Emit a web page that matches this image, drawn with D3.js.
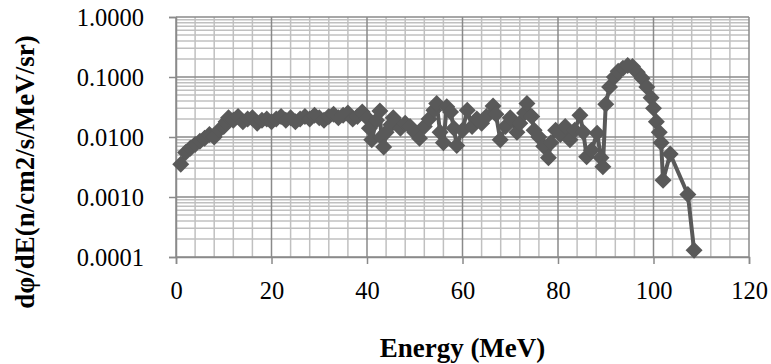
<!DOCTYPE html>
<html><head><meta charset="utf-8">
<script src="https://cdn.jsdelivr.net/npm/d3@7"></script>
<style>body{margin:0;background:#fff}svg{display:block}
text{font-family:"Liberation Serif","Times New Roman",Times,Tinos,serif !important;}
</style>
</head><body>
<svg id="c" width="771" height="364"></svg>
<script>
const energy = [1,2,3,4,5,6,7,8,9,10,10.5,11,12,13,14,15,16,17,18,19,20,21,22,23,24,25,26,27,28,29,30,31,32,33,34,35,36,37,38,39,40,40.5,41,42,42.7,43,43.5,44,45,45.5,46,47,48,49,50,51,52,53,54,54.6,55.3,56,56.7,57.5,58.2,58.8,60,61,62,63,64,65,66.4,67,67.9,69,70,71.4,72,73,73.5,74.5,75,76,77,78,78.5,79.5,80.5,81.5,82.5,83.5,84.6,85.3,86,87,88.2,89,89.4,90,90.8,91.8,92.6,93.6,94.6,95.6,96.6,97.6,98.6,99.5,100,100.6,101.2,101.6,102,103.5,107.2,108.5];
const flux = [0.0035,0.0055,0.0065,0.0075,0.0085,0.0095,0.011,0.010,0.013,0.015,0.018,0.021,0.019,0.022,0.018,0.020,0.021,0.017,0.019,0.020,0.018,0.020,0.022,0.019,0.021,0.018,0.020,0.022,0.020,0.023,0.021,0.019,0.022,0.024,0.021,0.023,0.025,0.020,0.022,0.026,0.021,0.014,0.009,0.019,0.027,0.010,0.0068,0.012,0.016,0.021,0.018,0.014,0.017,0.015,0.012,0.0095,0.015,0.020,0.028,0.036,0.012,0.008,0.032,0.026,0.014,0.0072,0.013,0.028,0.015,0.020,0.017,0.022,0.033,0.024,0.009,0.015,0.021,0.012,0.017,0.025,0.036,0.022,0.013,0.010,0.007,0.0045,0.008,0.013,0.011,0.015,0.009,0.013,0.023,0.012,0.0047,0.006,0.0115,0.0045,0.0032,0.035,0.068,0.10,0.125,0.14,0.155,0.15,0.12,0.095,0.068,0.045,0.030,0.018,0.012,0.008,0.0019,0.0052,0.0011,0.00013];
const xTicks = [0,20,40,60,80,100,120];
const yTicks = [1,0.1,0.01,0.001,0.0001];
const yTickLabels = ["1.0000","0.1000","0.0100","0.0010","0.0001"];
const xTitle = "Energy (MeV)";
const yTitle = "dφ/dE(n/cm2/s/MeV/sr)";

const svg = d3.select("#c");
const L = 176, R = 749, T = 17, B = 257;
const x = d3.scaleLinear().domain([0,120]).range([L,R]);
const y = d3.scaleLog().domain([0.0001,1]).range([B,T]);
const g = svg.append("g");

const minorX = d3.range(0,121,4);
g.selectAll(".vx").data(minorX.filter(v=>v%20!==0)).join("line")
  .attr("x1",d=>x(d)).attr("x2",d=>x(d)).attr("y1",T).attr("y2",B)
  .attr("stroke","#c0c0c0").attr("stroke-width",1.5);
const minorY = [];
for (let e=-4;e<0;e++) for (let k=2;k<=9;k++) minorY.push(k*Math.pow(10,e));
g.selectAll(".hy").data(minorY).join("line")
  .attr("x1",L).attr("x2",R).attr("y1",d=>y(d)).attr("y2",d=>y(d))
  .attr("stroke","#c0c0c0").attr("stroke-width",1.5);
g.selectAll(".mx").data(xTicks).join("line")
  .attr("x1",d=>x(d)).attr("x2",d=>x(d)).attr("y1",T).attr("y2",B)
  .attr("stroke","#8a8a8a").attr("stroke-width",1.5);
g.selectAll(".my").data(yTicks).join("line")
  .attr("x1",L).attr("x2",R).attr("y1",d=>y(d)).attr("y2",d=>y(d))
  .attr("stroke","#8a8a8a").attr("stroke-width",1.5);

const xAxis = d3.axisBottom(x).tickValues(xTicks).tickSize(7).tickPadding(18).tickFormat(d3.format("d"));
const gx = svg.append("g").attr("transform",`translate(0,${B})`).call(xAxis);
gx.select(".domain").attr("stroke","#8a8a8a").attr("stroke-width",1.5);
gx.selectAll(".tick line").attr("stroke","#8a8a8a").attr("stroke-width",1.5);
gx.selectAll("text").attr("font-size","24.5px").attr("fill","#000");

const yAxis = d3.axisLeft(y).tickValues(yTicks).tickSize(7).tickPadding(25).tickFormat((d,i)=>yTickLabels[i]);
const gy = svg.append("g").attr("transform",`translate(${L},0)`).call(yAxis);
gy.select(".domain").attr("stroke","#8a8a8a").attr("stroke-width",1.5);
gy.selectAll(".tick line").attr("stroke","#8a8a8a").attr("stroke-width",1.5);
gy.selectAll("text").attr("font-size","24.5px").attr("fill","#000").attr("dy","0.36em");

const data = energy.map((e,i)=>({e, v: flux[i]}));
svg.append("path").datum(data)
  .attr("d", d3.line().x(d=>x(d.e)).y(d=>y(d.v)))
  .attr("fill","none").attr("stroke","#595959").attr("stroke-width",4).attr("stroke-linejoin","round");
const s = 8.5;
svg.selectAll(".pt").data(data).join("path")
  .attr("transform",d=>`translate(${x(d.e)},${y(d.v)})`)
  .attr("d",`M0,${-s}L${s},0L0,${s}L${-s},0Z`)
  .attr("fill","#595959");

svg.append("text").attr("x",(L+R)/2).attr("y",357).attr("text-anchor","middle")
  .attr("font-weight","bold").attr("font-size","27px").text(xTitle);
svg.append("text").attr("transform","translate(34,172) rotate(-90)").attr("text-anchor","middle")
  .attr("font-weight","bold").attr("font-size","27px").text(yTitle);
</script>
</body></html>
